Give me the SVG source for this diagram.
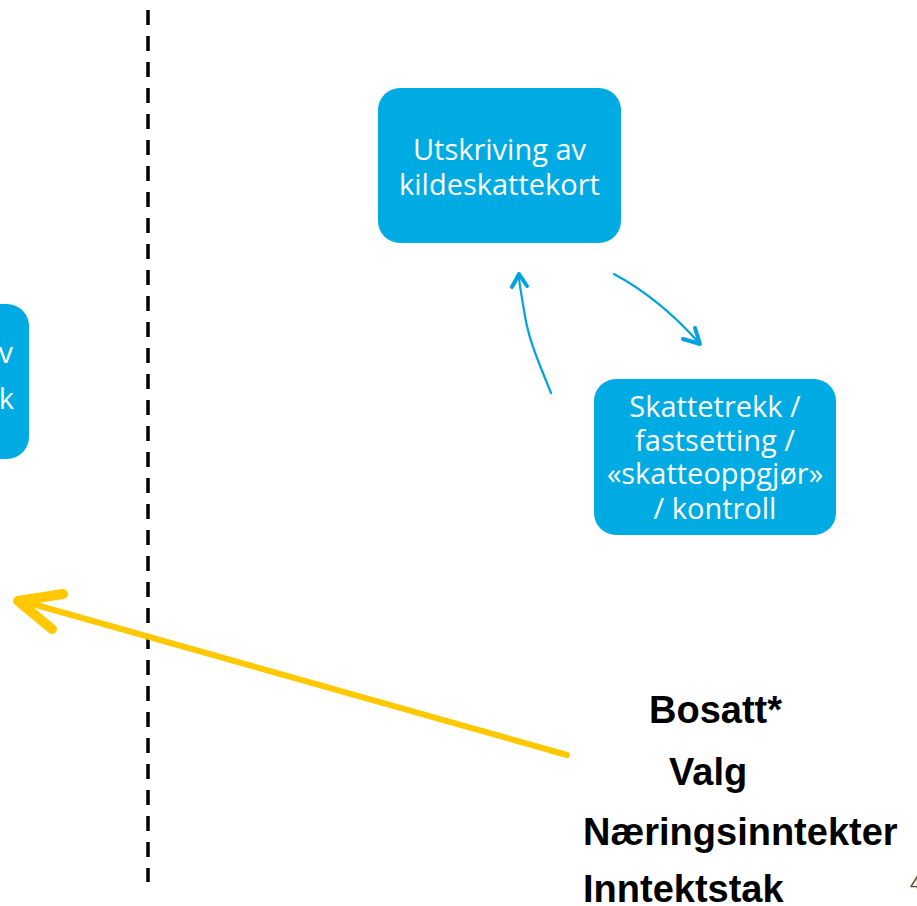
<svg xmlns="http://www.w3.org/2000/svg" width="917" height="906" viewBox="0 0 917 906">
<defs>
<style>
.box{fill:#00ABE4;}
.bt{font-family:"Open Sans","Liberation Sans",sans-serif;font-size:29px;fill:#ffffff;text-anchor:middle;}
.lt{font-family:"Open Sans","Liberation Sans",sans-serif;font-size:29px;fill:#ffffff;text-anchor:end;}
.blue{fill:none;stroke:#00A3DF;stroke-width:2.2;stroke-linecap:round;}
.bh{fill:none;stroke:#00A3DF;stroke-width:4;stroke-linecap:round;stroke-linejoin:round;}
.yl{fill:none;stroke:#FFC800;stroke-width:6;stroke-linecap:round;}
.yh{fill:none;stroke:#FFC800;stroke-width:10;stroke-linecap:round;stroke-linejoin:round;}
.kt{font-family:"Liberation Sans",Arial,sans-serif;font-weight:bold;font-size:38px;fill:#000000;}
</style>
</defs>
<rect width="917" height="906" fill="#ffffff"/>
<line x1="148" y1="10" x2="148" y2="882" stroke="#000" stroke-width="3.5" stroke-dasharray="15 11"/>
<g id="node-left">
<rect class="box" x="-200" y="304" width="229" height="155" rx="22"/>
<text class="lt" x="13" y="363">v</text>
<text class="lt" x="14" y="409">k</text>
</g>
<g id="node-kildeskattekort">
<rect class="box" x="378" y="88" width="243" height="155" rx="22"/>
<text class="bt" x="499.5" y="160">Utskriving av</text>
<text class="bt" x="499.5" y="195">kildeskattekort</text>
</g>
<g id="node-skattetrekk">
<rect class="box" x="594" y="379" width="242" height="156" rx="22"/>
<text class="bt" x="715" y="417">Skattetrekk /</text>
<text class="bt" x="715" y="451">fastsetting /</text>
<text class="bt" x="715" y="484">«skatteoppgjør»</text>
<text class="bt" x="715" y="519">/ kontroll</text>
</g>
<g id="connectors">
<path class="blue" d="M551,393 C540,365 528,340 524,310 C522,298 520,288 519,278"/>
<path class="bh" d="M512,287 L519,274 L527,286"/>
<path class="blue" d="M614,274 C640,288 670,310 700,344"/>
<path class="bh" d="M683,339 L700,344 L695,328"/>
<path class="yl" d="M567,755 L22,601"/>
<path class="yh" d="M63,594 L18,601 L52,629"/>
</g>
<g id="labels">
<text class="kt" x="649" y="723">Bosatt*</text>
<text class="kt" x="669" y="785">Valg</text>
<text class="kt" x="583" y="845">Næringsinntekter</text>
<text class="kt" x="583" y="902">Inntektstak</text>
<text x="910" y="890" font-family="Liberation Sans,Arial,sans-serif" font-size="20" fill="#444">4</text>
</g>
</svg>
